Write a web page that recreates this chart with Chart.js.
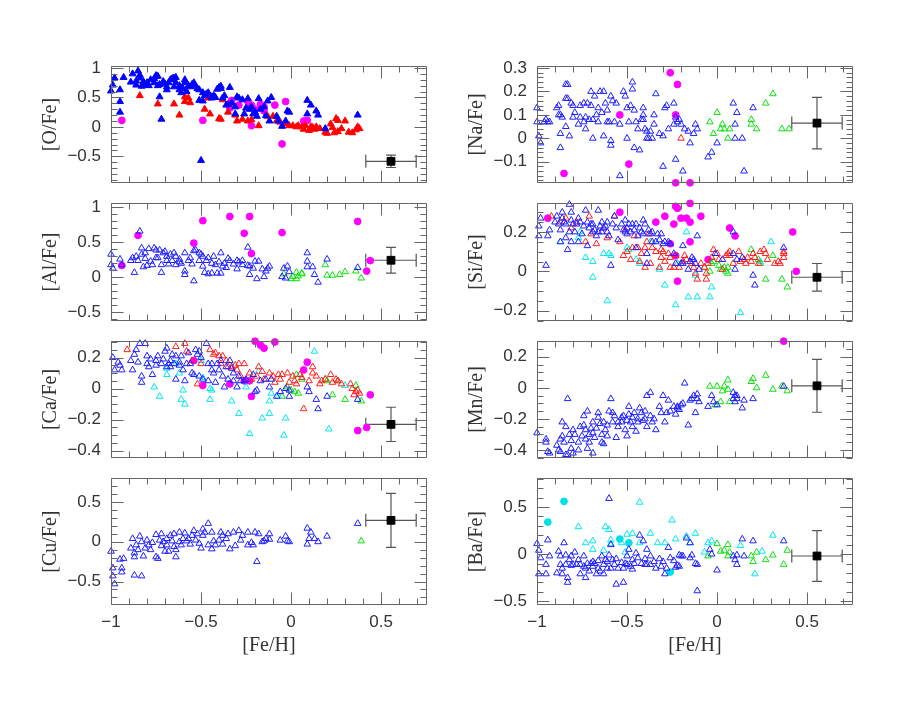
<!DOCTYPE html>
<html>
<head>
<meta charset="utf-8">
<script src="https://cdn.jsdelivr.net/npm/chart.js@4.4.1/dist/chart.umd.min.js"></script>
<style>
  html, body { margin: 0; padding: 0; background: #fff; }
  #wrap { position: relative; width: 900px; height: 715px; overflow: hidden; }
  canvas { position: absolute; }
</style>
</head>
<body>
<div id="wrap"></div>
<script>
// ---- shared x axis ([Fe/H]) ----
const xTicks = [-1, -0.5, 0, 0.5];

// ---- [O/Fe] ----
const oTicks = [-0.5, 0, 0.5, 1];
const oBlue = [[-1.0,0.61],[-0.99,0.71],[-0.98,0.83],[-0.95,0.63],[-0.95,0.43],[-0.95,0.25],[-0.93,0.84],[-0.89,0.76],[-0.88,0.90],[-0.86,0.78],[-0.85,0.95],[-0.84,0.88],[-0.84,0.83],[-0.86,0.71],[-0.83,0.69],[-0.82,0.77],[-0.81,0.71],[-0.80,0.75],[-0.79,0.70],[-0.78,0.80],[-0.76,0.82],[-0.75,0.87],[-0.75,0.86],[-0.74,0.86],[-0.76,0.75],[-0.74,0.70],[-0.73,0.72],[-0.73,0.51],[-0.72,0.13],[-0.71,0.77],[-0.70,0.73],[-0.69,0.68],[-0.69,0.63],[-0.68,0.75],[-0.67,0.80],[-0.66,0.82],[-0.65,0.83],[-0.64,0.84],[-0.64,0.75],[-0.65,0.68],[-0.62,0.70],[-0.62,0.63],[-0.61,0.58],[-0.60,0.65],[-0.59,0.80],[-0.59,0.75],[-0.58,0.60],[-0.57,0.70],[-0.56,0.68],[-0.55,0.72],[-0.54,0.75],[-0.53,0.69],[-0.52,0.65],[-0.51,0.63],[-0.51,0.45],[-0.50,-0.57],[-0.49,0.58],[-0.49,0.44],[-0.48,0.53],[-0.47,0.56],[-0.46,0.58],[-0.44,0.49],[-0.44,0.51],[-0.43,0.53],[-0.42,0.50],[-0.41,0.64],[-0.40,0.67],[-0.39,0.69],[-0.39,0.65],[-0.38,0.49],[-0.37,0.53],[-0.36,0.37],[-0.35,0.38],[-0.34,0.67],[-0.33,0.41],[-0.31,0.34],[-0.31,0.22],[-0.30,0.51],[-0.29,0.49],[-0.27,0.46],[-0.26,0.22],[-0.25,0.32],[-0.24,0.48],[-0.23,0.30],[-0.22,0.34],[-0.21,0.22],[-0.20,0.25],[-0.19,0.18],[-0.18,0.48],[-0.17,0.30],[-0.15,0.34],[-0.14,0.19],[-0.13,0.44],[-0.12,0.10],[-0.11,0.50],[-0.08,0.18],[-0.07,0.10],[-0.05,0.01],[-0.03,0.10],[-0.02,0.27],[-0.01,0.25],[0.09,0.45],[0.09,0.22],[0.11,0.37],[0.14,0.27],[0.15,0.20],[0.19,-0.03],[0.37,0.20]];
const oRed = [[-0.84,0.53],[-0.74,0.39],[-0.65,0.39],[-0.62,0.20],[-0.59,0.51],[-0.57,0.49],[-0.59,0.43],[-0.56,0.41],[-0.48,0.30],[-0.46,0.49],[-0.45,0.22],[-0.43,0.51],[-0.40,0.14],[-0.39,0.13],[-0.38,0.46],[-0.35,0.25],[-0.33,0.39],[-0.31,0.20],[-0.30,0.10],[-0.27,0.13],[-0.24,0.10],[-0.22,0.12],[-0.18,0.02],[-0.13,0.18],[-0.10,0.18],[-0.08,0.10],[-0.06,0.08],[-0.03,0.05],[-0.01,0.02],[0.01,0.02],[0.03,0.00],[0.04,0.02],[0.06,0.00],[0.07,-0.04],[0.08,0.02],[0.10,-0.06],[0.11,0.00],[0.12,-0.01],[0.13,-0.04],[0.14,0.00],[0.16,-0.03],[0.19,-0.09],[0.20,-0.11],[0.22,0.05],[0.23,-0.01],[0.24,-0.10],[0.25,0.14],[0.26,-0.08],[0.28,-0.03],[0.30,0.10],[0.26,0.11],[0.32,-0.09],[0.34,-0.10],[0.36,-0.05],[0.37,0.00],[0.38,-0.03]];
const oMag = [[-0.94,0.11],[-0.49,0.11],[-0.34,0.32],[-0.33,0.45],[-0.29,0.37],[-0.24,0.43],[-0.22,0.37],[-0.23,0.32],[-0.20,0.30],[-0.22,0.02],[-0.17,0.38],[-0.15,0.34],[-0.15,0.27],[-0.09,0.37],[-0.03,0.43],[-0.05,-0.29],[0.07,0.10],[0.09,0.11]];
const oRef = [0.555, -0.585], oErr = [0.14, 0.105];

// ---- [Al/Fe] ----
const alTicks = [-0.5, 0, 0.5, 1];
const alBlue = [[-1.0,0.33],[-1.0,0.18],[-0.99,0.13],[-0.95,0.26],[-0.94,0.18],[-0.89,0.24],[-0.88,0.28],[-0.87,0.07],[-0.86,0.30],[-0.85,0.24],[-0.84,0.66],[-0.83,0.42],[-0.83,0.33],[-0.82,0.15],[-0.81,0.27],[-0.81,0.35],[-0.80,0.17],[-0.79,0.41],[-0.78,0.23],[-0.77,0.18],[-0.76,0.42],[-0.75,0.28],[-0.75,0.39],[-0.74,0.28],[-0.73,0.39],[-0.72,0.07],[-0.72,0.18],[-0.71,0.35],[-0.70,0.37],[-0.69,0.24],[-0.69,0.30],[-0.68,0.19],[-0.67,0.33],[-0.66,0.24],[-0.65,0.35],[-0.64,0.18],[-0.64,0.30],[-0.62,0.26],[-0.62,0.22],[-0.61,0.20],[-0.59,0.09],[-0.59,0.04],[-0.59,0.35],[-0.57,0.24],[-0.56,0.28],[-0.55,0.19],[-0.54,-0.05],[-0.54,0.38],[-0.53,0.39],[-0.51,0.35],[-0.51,0.24],[-0.50,0.33],[-0.49,0.16],[-0.49,0.30],[-0.48,0.07],[-0.47,0.24],[-0.46,0.05],[-0.46,0.28],[-0.44,0.20],[-0.44,0.06],[-0.43,0.30],[-0.42,0.18],[-0.41,0.06],[-0.40,0.22],[-0.39,0.35],[-0.39,0.06],[-0.38,0.16],[-0.37,0.20],[-0.36,0.14],[-0.35,0.27],[-0.34,0.24],[-0.32,0.19],[-0.30,0.12],[-0.30,0.24],[-0.29,0.22],[-0.27,0.18],[-0.27,0.24],[-0.24,0.43],[-0.24,0.17],[-0.23,0.04],[-0.23,0.16],[-0.21,0.13],[-0.20,0.23],[-0.19,-0.02],[-0.18,0.23],[-0.16,0.12],[-0.15,0.01],[-0.14,0.09],[-0.13,0.13],[-0.12,0.16],[-0.05,0.01],[-0.04,0.13],[-0.03,-0.01],[-0.02,0.16],[-0.01,0.08],[0.09,0.35],[0.09,0.23],[0.09,0.15],[0.12,0.15],[0.13,0.04],[0.15,-0.07],[0.20,0.26],[0.37,0.14]];
const alGreen = [[-0.04,0.05],[0.00,-0.02],[0.01,0.01],[0.03,0.07],[0.03,-0.02],[0.04,0.02],[0.06,0.05],[0.06,0.06],[0.19,0.18],[0.20,0.03],[0.23,0.03],[0.27,0.04],[0.30,0.08],[0.36,0.09],[0.39,-0.01]];
const alMag = [[-0.94,0.17],[-0.85,0.60],[-0.54,0.49],[-0.49,0.81],[-0.34,0.87],[-0.23,0.87],[-0.26,0.63],[-0.22,0.34],[-0.05,0.64],[0.37,0.80],[0.44,0.24],[0.42,0.09]];
const alRef = [0.555, 0.245], alErr = [0.14, 0.185];

// ---- [Ca/Fe] ----
const caTicks = [-0.4, -0.2, 0, 0.2];
const caBlue = [[-0.99,0.20],[-0.98,0.12],[-0.96,0.17],[-0.95,0.15],[-0.94,0.12],[-0.89,0.18],[-0.88,0.12],[-0.87,0.22],[-0.86,0.25],[-0.84,0.29],[-0.85,0.17],[-0.83,0.08],[-0.83,0.04],[-0.81,0.29],[-0.80,0.21],[-0.80,0.16],[-0.79,0.14],[-0.78,0.19],[-0.77,0.09],[-0.75,0.18],[-0.75,0.15],[-0.74,0.21],[-0.72,0.16],[-0.71,0.19],[-0.70,0.24],[-0.69,0.14],[-0.69,0.26],[-0.68,0.16],[-0.67,0.18],[-0.67,0.14],[-0.66,0.22],[-0.65,0.16],[-0.64,0.06],[-0.64,0.21],[-0.62,0.17],[-0.62,0.15],[-0.61,0.21],[-0.60,0.12],[-0.59,0.05],[-0.58,0.16],[-0.57,0.23],[-0.56,0.16],[-0.55,0.10],[-0.54,0.09],[-0.53,0.25],[-0.52,0.22],[-0.51,0.24],[-0.51,0.08],[-0.50,0.20],[-0.49,0.06],[-0.47,0.29],[-0.46,0.16],[-0.46,0.05],[-0.44,0.12],[-0.44,0.16],[-0.43,0.10],[-0.42,0.04],[-0.41,0.16],[-0.40,0.12],[-0.39,0.18],[-0.38,0.08],[-0.37,0.01],[-0.36,0.14],[-0.35,0.06],[-0.34,0.18],[-0.33,0.13],[-0.32,0.05],[-0.32,0.10],[-0.30,0.01],[-0.29,0.08],[-0.28,0.05],[-0.26,0.05],[-0.25,0.06],[-0.21,0.09],[-0.20,-0.02],[-0.19,-0.01],[-0.17,0.05],[-0.14,0.06],[-0.12,0.01],[-0.11,0.06],[-0.08,-0.05],[-0.06,-0.02],[-0.03,0.00],[-0.01,-0.05],[-0.01,-0.01],[0.09,0.01],[0.10,-0.02],[0.14,-0.07],[0.15,-0.13],[0.20,-0.05],[0.37,-0.07]];
const caRed = [[-0.91,0.25],[-0.64,0.27],[-0.59,0.29],[-0.58,0.24],[-0.55,0.18],[-0.52,0.03],[-0.50,0.16],[-0.45,0.25],[-0.43,0.22],[-0.42,0.23],[-0.40,0.21],[-0.39,0.16],[-0.38,0.21],[-0.36,0.18],[-0.35,0.14],[-0.33,0.14],[-0.31,0.15],[-0.30,0.12],[-0.29,0.16],[-0.28,0.08],[-0.26,0.16],[-0.23,0.10],[-0.22,0.06],[-0.19,0.08],[-0.18,0.14],[-0.16,0.11],[-0.15,0.06],[-0.12,0.10],[-0.10,0.08],[-0.09,0.04],[-0.07,0.09],[-0.06,0.06],[-0.05,0.09],[-0.02,0.10],[-0.01,0.04],[0.01,0.08],[0.02,0.05],[0.03,0.03],[0.05,0.09],[0.06,0.07],[0.07,-0.13],[0.10,0.05],[0.12,0.14],[0.12,0.10],[0.14,0.08],[0.16,0.03],[0.17,0.05],[0.19,0.06],[0.22,0.09],[0.23,0.04],[0.25,0.06],[0.26,0.05],[0.28,0.03],[0.33,0.03],[0.34,0.00],[0.36,-0.02],[0.37,-0.01],[0.35,-0.04],[0.38,-0.03]];
const caCyan = [[-0.76,0.01],[-0.73,-0.05],[-0.69,0.09],[-0.69,0.13],[-0.64,0.16],[-0.62,0.10],[-0.61,-0.07],[-0.60,-0.01],[-0.59,-0.10],[-0.50,0.18],[-0.49,0.07],[-0.45,0.00],[-0.45,-0.07],[-0.44,-0.01],[-0.33,-0.08],[-0.29,-0.16],[-0.25,0.01],[-0.23,-0.29],[-0.18,0.11],[-0.16,-0.19],[-0.12,-0.16],[-0.12,-0.08],[-0.11,-0.03],[-0.07,-0.05],[-0.04,-0.30],[-0.03,-0.19],[0.13,0.24],[0.21,-0.26],[0.30,0.02]];
const caGreen = [[-0.05,-0.05],[-0.02,0.01],[0.00,-0.01],[0.02,-0.02],[0.03,0.09],[0.04,-0.03],[0.06,0.06],[0.19,0.06],[0.20,0.05],[0.23,-0.04],[0.26,0.05],[0.30,-0.07],[0.36,0.02],[0.39,-0.08]];
const caMag = [[-0.20,0.305],[-0.17,0.28],[-0.15,0.26],[-0.09,0.30],[-0.54,0.18],[-0.49,0.02],[-0.34,0.03],[-0.26,0.05],[-0.25,0.05],[-0.23,0.05],[-0.22,-0.05],[0.07,0.12],[0.09,0.17],[0.37,-0.27],[0.42,-0.25],[0.44,-0.04]];
const caRef = [0.555, -0.23], caErr = [0.14, 0.11];

// ---- [Cu/Fe] ----
const cuTicks = [-0.5, 0, 0.5];
const cuBlue = [[-1.0,-0.12],[-0.99,-0.33],[-0.99,-0.43],[-0.98,-0.53],[-0.95,-0.22],[-0.94,-0.38],[-0.94,-0.33],[-0.93,-0.21],[-0.89,-0.08],[-0.88,0.04],[-0.87,-0.14],[-0.87,-0.19],[-0.87,-0.42],[-0.86,-0.04],[-0.85,-0.10],[-0.84,0.07],[-0.83,-0.43],[-0.83,0.00],[-0.82,-0.18],[-0.81,-0.08],[-0.80,0.02],[-0.79,-0.04],[-0.78,-0.10],[-0.77,-0.01],[-0.75,-0.19],[-0.75,0.09],[-0.74,-0.21],[-0.73,0.02],[-0.72,0.10],[-0.72,-0.05],[-0.71,0.00],[-0.70,-0.12],[-0.69,0.04],[-0.69,-0.04],[-0.68,-0.12],[-0.67,0.08],[-0.66,0.01],[-0.65,0.10],[-0.65,-0.06],[-0.64,-0.19],[-0.64,-0.10],[-0.62,0.00],[-0.62,0.12],[-0.61,-0.04],[-0.60,0.04],[-0.59,0.11],[-0.58,0.01],[-0.57,0.04],[-0.56,-0.03],[-0.55,0.08],[-0.54,0.14],[-0.53,0.02],[-0.52,0.10],[-0.51,-0.02],[-0.50,-0.08],[-0.49,0.16],[-0.49,0.08],[-0.48,0.12],[-0.46,0.23],[-0.46,-0.04],[-0.44,-0.09],[-0.44,0.12],[-0.43,0.01],[-0.42,-0.04],[-0.40,0.02],[-0.39,0.12],[-0.38,-0.03],[-0.38,0.08],[-0.36,0.04],[-0.35,0.10],[-0.34,-0.09],[-0.32,0.12],[-0.31,-0.05],[-0.29,0.14],[-0.28,0.02],[-0.27,0.08],[-0.24,0.12],[-0.24,-0.04],[-0.22,-0.01],[-0.21,-0.04],[-0.20,0.12],[-0.19,-0.25],[-0.18,0.10],[-0.16,0.00],[-0.15,0.01],[-0.14,0.04],[-0.12,0.10],[-0.12,0.03],[-0.06,0.02],[-0.03,0.07],[-0.02,0.01],[-0.01,0.00],[0.09,0.17],[0.09,-0.03],[0.10,0.04],[0.11,0.12],[0.13,0.04],[0.15,0.00],[0.20,0.07],[0.37,0.23]];
const cuGreen = [[0.39,0.01]];
const cuRef = [0.555, 0.27], cuErr = [0.14, 0.34];

// ---- [Na/Fe] ----
const naTicks = [-0.1, 0, 0.1, 0.2, 0.3];
const naBlue = [[-1.0,0.13],[-1.0,0.07],[-0.99,0.01],[-0.98,-0.02],[-0.96,0.07],[-0.95,0.08],[-0.94,0.07],[-0.93,0.07],[-0.89,0.13],[-0.88,0.14],[-0.88,0.10],[-0.87,0.10],[-0.87,0.02],[-0.87,-0.04],[-0.86,0.09],[-0.84,0.23],[-0.83,0.23],[-0.84,0.17],[-0.83,0.17],[-0.84,0.05],[-0.82,0.01],[-0.81,0.15],[-0.80,0.14],[-0.80,0.09],[-0.79,0.11],[-0.77,0.06],[-0.76,0.14],[-0.76,0.09],[-0.74,0.15],[-0.74,0.07],[-0.73,0.09],[-0.73,0.04],[-0.72,0.15],[-0.71,0.08],[-0.70,0.14],[-0.70,0.20],[-0.69,0.00],[-0.69,0.08],[-0.68,0.18],[-0.67,0.10],[-0.66,0.07],[-0.66,0.13],[-0.65,0.20],[-0.64,0.11],[-0.63,0.20],[-0.63,0.01],[-0.62,0.15],[-0.61,0.12],[-0.61,0.07],[-0.60,0.07],[-0.59,0.18],[-0.59,-0.01],[-0.59,-0.03],[-0.58,0.16],[-0.57,0.07],[-0.56,0.15],[-0.54,-0.16],[-0.54,0.06],[-0.52,0.20],[-0.51,0.18],[-0.50,0.13],[-0.50,0.00],[-0.49,0.07],[-0.48,0.14],[-0.47,0.24],[-0.47,0.21],[-0.46,-0.04],[-0.46,0.12],[-0.45,0.07],[-0.44,0.04],[-0.43,-0.05],[-0.42,0.08],[-0.41,0.08],[-0.41,0.13],[-0.41,0.10],[-0.40,0.04],[-0.39,0.03],[-0.39,0.00],[-0.38,0.00],[-0.37,0.03],[-0.36,0.00],[-0.35,0.06],[-0.35,0.10],[-0.34,0.19],[-0.32,0.02],[-0.30,-0.12],[-0.30,0.01],[-0.29,0.13],[-0.28,0.14],[-0.27,0.04],[-0.24,0.06],[-0.24,0.15],[-0.23,0.09],[-0.23,-0.09],[-0.22,0.07],[-0.21,0.08],[-0.20,0.06],[-0.19,-0.14],[-0.18,0.04],[-0.16,0.03],[-0.15,-0.02],[-0.13,0.02],[-0.12,0.06],[-0.11,0.04],[-0.05,-0.08],[-0.03,-0.06],[0.00,-0.02],[0.09,0.15],[0.10,0.06],[0.10,0.00],[0.11,0.11],[0.14,0.00],[0.15,-0.14],[0.20,0.13]];
const naRed = [[-0.20,0.00]];
const naGreen = [[-0.04,0.07],[-0.02,0.02],[0.00,0.11],[0.02,0.04],[0.03,0.06],[0.04,0.04],[0.06,0.00],[0.07,0.04],[0.19,0.06],[0.19,0.08],[0.22,0.04],[0.27,0.15],[0.31,0.19],[0.36,0.04],[0.40,0.04]];
const naMag = [[-0.85,-0.15],[-0.54,0.10],[-0.49,-0.11],[-0.26,0.28],[-0.22,0.23],[-0.23,0.10],[-0.23,-0.19],[-0.15,-0.19]];
const naRef = [0.555, 0.065], naErr = [0.14, 0.11];

// ---- [Si/Fe] ----
const siTicks = [-0.2, 0, 0.2];
const siBlue = [[-0.99,0.18],[-0.99,0.23],[-0.98,0.27],[-0.95,0.03],[-0.94,0.18],[-0.93,0.21],[-0.90,0.25],[-0.89,0.28],[-0.88,0.24],[-0.87,0.15],[-0.87,0.21],[-0.86,0.27],[-0.86,0.30],[-0.85,0.25],[-0.84,0.17],[-0.84,0.24],[-0.83,0.11],[-0.82,0.34],[-0.82,0.20],[-0.81,0.15],[-0.81,0.26],[-0.81,0.30],[-0.80,0.24],[-0.79,0.20],[-0.78,0.24],[-0.77,0.27],[-0.77,0.15],[-0.76,0.25],[-0.75,0.19],[-0.74,0.23],[-0.73,0.31],[-0.72,0.13],[-0.72,0.25],[-0.71,0.22],[-0.70,0.24],[-0.69,0.20],[-0.69,0.24],[-0.68,0.21],[-0.67,0.18],[-0.66,0.31],[-0.66,0.20],[-0.65,0.23],[-0.64,0.20],[-0.64,0.25],[-0.63,0.22],[-0.62,0.23],[-0.61,0.20],[-0.61,0.25],[-0.60,0.18],[-0.59,0.03],[-0.58,0.24],[-0.57,0.28],[-0.56,0.22],[-0.55,0.16],[-0.53,0.24],[-0.52,0.21],[-0.51,0.26],[-0.51,0.20],[-0.50,0.22],[-0.50,0.19],[-0.49,0.24],[-0.48,0.20],[-0.47,0.24],[-0.46,0.21],[-0.45,0.24],[-0.45,0.12],[-0.44,0.18],[-0.43,0.22],[-0.42,0.20],[-0.41,0.26],[-0.41,0.19],[-0.40,0.24],[-0.39,0.09],[-0.39,0.04],[-0.38,0.21],[-0.37,0.19],[-0.36,0.20],[-0.36,0.15],[-0.34,0.15],[-0.33,0.19],[-0.32,0.16],[-0.31,0.19],[-0.30,0.14],[-0.29,0.15],[-0.27,0.15],[-0.26,0.14],[-0.24,0.09],[-0.23,0.04],[-0.20,0.04],[-0.19,0.13],[-0.19,0.04],[-0.16,0.01],[-0.15,0.05],[-0.14,0.07],[-0.13,0.06],[-0.12,0.04],[-0.11,0.18],[-0.10,0.01],[-0.01,0.09],[0.03,0.06],[0.09,0.09],[0.09,0.20],[0.10,0.01],[0.11,0.06],[0.14,0.07],[0.20,-0.02],[0.21,-0.07],[0.37,0.12]];
const siRed = [[-0.92,0.28],[-0.87,0.25],[-0.84,0.27],[-0.81,0.22],[-0.78,0.25],[-0.73,0.15],[-0.71,0.28],[-0.70,0.19],[-0.67,0.14],[-0.63,0.22],[-0.61,0.17],[-0.57,0.28],[-0.54,0.15],[-0.52,0.08],[-0.51,0.21],[-0.50,0.10],[-0.48,0.06],[-0.47,0.12],[-0.46,0.18],[-0.44,0.12],[-0.43,0.05],[-0.42,0.09],[-0.40,0.12],[-0.40,0.02],[-0.39,0.15],[-0.38,0.19],[-0.37,0.04],[-0.36,0.12],[-0.34,0.10],[-0.32,0.02],[-0.31,0.11],[-0.31,0.07],[-0.30,0.10],[-0.29,0.05],[-0.27,0.09],[-0.26,0.02],[-0.26,0.07],[-0.24,0.02],[-0.23,0.08],[-0.21,0.02],[-0.19,0.05],[-0.18,0.08],[-0.17,0.06],[-0.14,0.04],[-0.13,0.02],[-0.12,-0.01],[-0.11,-0.04],[-0.09,0.04],[-0.07,0.02],[-0.06,-0.01],[-0.06,-0.04],[-0.05,0.04],[-0.03,0.07],[-0.02,0.11],[0.00,0.09],[0.01,0.06],[0.03,0.01],[0.05,0.08],[0.06,0.09],[0.07,0.08],[0.07,0.10],[0.09,0.04],[0.12,0.10],[0.13,0.05],[0.15,0.06],[0.16,0.04],[0.17,0.07],[0.19,0.05],[0.20,0.09],[0.21,0.07],[0.23,0.04],[0.24,0.10],[0.26,0.11],[0.27,0.09],[0.28,0.06],[0.32,0.04],[0.34,0.05],[0.35,0.04],[0.37,0.07],[0.37,0.09],[0.37,0.10]];
const siCyan = [[-0.87,0.15],[-0.77,0.17],[-0.76,0.20],[-0.73,0.07],[-0.69,0.05],[-0.69,-0.03],[-0.63,0.09],[-0.60,0.09],[-0.61,-0.15],[-0.59,0.08],[-0.50,0.12],[-0.49,0.11],[-0.45,0.06],[-0.43,0.04],[-0.37,0.15],[-0.32,0.01],[-0.29,-0.07],[-0.23,-0.17],[-0.22,0.04],[-0.17,0.20],[-0.16,-0.13],[-0.12,-0.02],[-0.11,-0.13],[-0.04,-0.13],[-0.03,-0.08],[0.13,-0.21],[0.24,0.05],[0.30,0.15]];
const siGreen = [[-0.07,0.02],[-0.04,0.00],[-0.03,0.04],[-0.02,0.05],[0.01,0.03],[0.02,0.01],[0.04,0.02],[0.05,0.00],[0.06,0.02],[0.06,-0.01],[0.19,0.11],[0.23,0.06],[0.24,0.04],[0.31,0.08],[0.27,-0.04],[0.36,-0.04],[0.39,-0.08]];
const siMag = [[-0.94,0.27],[-0.54,0.30],[-0.34,0.25],[-0.29,0.28],[-0.24,0.24],[-0.23,0.33],[-0.22,0.32],[-0.20,0.27],[-0.17,0.27],[-0.15,0.345],[-0.15,0.25],[-0.09,0.28],[-0.26,0.14],[-0.23,0.08],[-0.15,0.15],[-0.22,-0.05],[-0.05,0.06],[0.07,0.22],[0.10,0.18],[0.42,0.20],[0.44,0.00]];
const siRef = [0.555, -0.03], siErr = [0.14, 0.07];

// ---- [Mn/Fe] ----
const mnTicks = [-0.4, -0.2, 0, 0.2];
const mnBlue = [[-1.0,-0.29],[-0.95,-0.33],[-0.95,-0.35],[-0.94,-0.41],[-0.93,-0.42],[-0.89,-0.37],[-0.88,-0.40],[-0.87,-0.33],[-0.87,-0.41],[-0.86,-0.22],[-0.86,-0.31],[-0.85,-0.35],[-0.84,-0.43],[-0.84,-0.25],[-0.83,-0.07],[-0.83,-0.43],[-0.82,-0.30],[-0.81,-0.39],[-0.81,-0.34],[-0.80,-0.27],[-0.80,-0.42],[-0.79,-0.30],[-0.77,-0.35],[-0.77,-0.40],[-0.76,-0.25],[-0.75,-0.31],[-0.74,-0.24],[-0.74,-0.18],[-0.73,-0.27],[-0.73,-0.33],[-0.72,-0.15],[-0.72,-0.39],[-0.71,-0.30],[-0.71,-0.35],[-0.70,-0.26],[-0.69,-0.22],[-0.69,-0.42],[-0.69,-0.29],[-0.68,-0.32],[-0.67,-0.26],[-0.66,-0.19],[-0.66,-0.16],[-0.65,-0.23],[-0.64,-0.30],[-0.64,-0.35],[-0.63,-0.36],[-0.63,-0.22],[-0.62,-0.27],[-0.61,-0.31],[-0.61,-0.24],[-0.60,-0.15],[-0.59,-0.07],[-0.58,-0.22],[-0.58,-0.16],[-0.57,-0.18],[-0.56,-0.32],[-0.55,-0.22],[-0.55,-0.25],[-0.53,-0.19],[-0.53,-0.22],[-0.52,-0.18],[-0.51,-0.27],[-0.50,-0.31],[-0.50,-0.21],[-0.49,-0.12],[-0.49,-0.17],[-0.48,-0.22],[-0.47,-0.19],[-0.47,-0.25],[-0.46,-0.16],[-0.45,-0.28],[-0.44,-0.20],[-0.44,-0.22],[-0.43,-0.13],[-0.42,-0.16],[-0.41,-0.21],[-0.40,-0.15],[-0.40,-0.20],[-0.39,-0.05],[-0.39,-0.25],[-0.37,-0.03],[-0.37,-0.18],[-0.36,-0.22],[-0.35,-0.20],[-0.34,-0.27],[-0.32,-0.12],[-0.31,-0.16],[-0.30,-0.05],[-0.29,-0.22],[-0.28,-0.16],[-0.27,-0.08],[-0.26,-0.15],[-0.24,-0.12],[-0.23,-0.17],[-0.22,-0.13],[-0.22,-0.12],[-0.21,-0.14],[-0.20,-0.11],[-0.19,-0.10],[-0.18,0.03],[-0.16,-0.24],[-0.15,-0.08],[-0.14,-0.07],[-0.13,-0.05],[-0.12,-0.16],[-0.11,-0.04],[-0.11,-0.07],[-0.10,-0.09],[-0.05,-0.12],[-0.03,-0.05],[-0.02,-0.09],[0.00,-0.11],[0.09,-0.03],[0.09,-0.07],[0.10,-0.09],[0.10,-0.05],[0.11,-0.07],[0.11,-0.05],[0.14,-0.13],[0.15,-0.08],[0.20,-0.07],[0.37,0.01]];
const mnGreen = [[-0.04,0.01],[-0.01,-0.11],[0.00,0.01],[0.02,-0.09],[0.03,-0.02],[0.04,0.01],[0.06,-0.01],[0.06,0.05],[0.07,-0.09],[0.19,0.04],[0.20,0.06],[0.22,0.00],[0.27,0.08],[0.31,-0.01],[0.36,0.01],[0.39,-0.02]];
const mnMag = [[0.37,0.30]];
const mnRef = [0.555, 0.013], mnErr = [0.14, 0.17];

// ---- [Ba/Fe] ----
const baTicks = [-0.5, 0, 0.5];
const baBlue = [[-1.0,0.11],[-0.99,0.04],[-0.98,-0.04],[-0.99,-0.21],[-0.95,-0.11],[-0.94,0.15],[-0.93,-0.02],[-0.95,-0.21],[-0.89,-0.20],[-0.88,0.03],[-0.87,-0.11],[-0.87,-0.02],[-0.86,-0.15],[-0.86,-0.21],[-0.85,0.12],[-0.84,-0.01],[-0.84,-0.11],[-0.83,-0.25],[-0.83,-0.30],[-0.82,-0.06],[-0.81,-0.12],[-0.81,-0.02],[-0.80,-0.11],[-0.79,0.02],[-0.78,-0.11],[-0.77,-0.06],[-0.76,-0.21],[-0.76,-0.11],[-0.74,-0.02],[-0.74,-0.13],[-0.73,-0.25],[-0.73,-0.15],[-0.72,-0.10],[-0.71,-0.18],[-0.70,-0.10],[-0.69,-0.13],[-0.69,-0.08],[-0.68,-0.10],[-0.67,-0.21],[-0.66,-0.07],[-0.66,-0.15],[-0.65,-0.18],[-0.64,-0.02],[-0.63,-0.21],[-0.63,-0.11],[-0.62,-0.06],[-0.61,-0.15],[-0.61,-0.08],[-0.60,0.59],[-0.60,-0.01],[-0.59,-0.15],[-0.59,0.10],[-0.58,-0.06],[-0.57,-0.11],[-0.56,-0.32],[-0.56,-0.05],[-0.55,-0.15],[-0.53,-0.09],[-0.52,-0.30],[-0.52,-0.15],[-0.51,-0.10],[-0.50,-0.02],[-0.50,-0.11],[-0.49,0.05],[-0.48,-0.13],[-0.47,-0.06],[-0.47,-0.16],[-0.46,-0.10],[-0.45,0.01],[-0.44,-0.04],[-0.43,0.20],[-0.42,-0.10],[-0.41,0.14],[-0.40,-0.05],[-0.40,-0.11],[-0.39,0.05],[-0.39,-0.11],[-0.37,-0.02],[-0.37,-0.11],[-0.35,-0.08],[-0.34,-0.15],[-0.32,-0.05],[-0.31,-0.13],[-0.30,-0.08],[-0.29,-0.21],[-0.28,-0.15],[-0.27,0.07],[-0.26,-0.04],[-0.24,-0.07],[-0.23,-0.14],[-0.22,-0.12],[-0.21,-0.01],[-0.21,-0.13],[-0.20,-0.02],[-0.19,-0.02],[-0.17,0.17],[-0.15,0.12],[-0.15,-0.04],[-0.14,-0.01],[-0.12,-0.10],[-0.11,-0.11],[-0.11,-0.39],[-0.04,0.05],[-0.03,0.00],[0.00,-0.17],[0.09,-0.02],[0.10,-0.06],[0.11,-0.11],[0.11,-0.01],[0.14,0.16],[0.15,-0.02],[0.20,0.14],[0.37,0.14]];
const baCyan = [[-0.77,0.29],[-0.73,0.12],[-0.69,0.05],[-0.69,0.14],[-0.63,0.04],[-0.62,0.29],[-0.60,0.26],[-0.59,0.15],[-0.59,0.11],[-0.53,0.12],[-0.51,0.02],[-0.50,0.21],[-0.47,0.22],[-0.43,0.55],[-0.43,0.12],[-0.37,0.22],[-0.33,0.12],[-0.29,0.12],[-0.25,0.36],[-0.23,0.16],[-0.17,0.19],[-0.15,0.12],[-0.12,0.22],[-0.07,0.02],[-0.05,0.12],[-0.03,0.14],[0.13,0.09],[0.21,-0.21],[0.25,0.03],[0.31,0.20]];
const baCyanDot = [[-0.85,0.56],[-0.94,0.34],[-0.54,0.16],[-0.49,0.12],[-0.26,-0.19]];
const baGreen = [[-0.05,-0.02],[0.00,0.11],[0.02,0.03],[0.04,0.04],[0.06,0.10],[0.06,-0.02],[0.07,0.02],[0.19,-0.02],[0.20,-0.08],[0.22,0.02],[0.27,-0.06],[0.31,-0.01],[0.37,-0.11],[0.39,0.04]];
const baRef = [0.555, -0.02], baErr = [0.14, 0.27];

// ---- marker styles ----
const styles = {
  blueFill:  { pointStyle: 'triangle', pointRadius: 4,   backgroundColor: '#0000ff', borderColor: '#0000ff', borderWidth: 1 },
  redFill:   { pointStyle: 'triangle', pointRadius: 4,   backgroundColor: '#ff0000', borderColor: '#ff0000', borderWidth: 1 },
  blueOpen:  { pointStyle: 'triangle', pointRadius: 3.8, backgroundColor: 'rgba(0,0,0,0)', borderColor: '#1f1fff', borderWidth: 1 },
  redOpen:   { pointStyle: 'triangle', pointRadius: 3.8, backgroundColor: 'rgba(0,0,0,0)', borderColor: '#ff2020', borderWidth: 1 },
  cyanOpen:  { pointStyle: 'triangle', pointRadius: 3.8, backgroundColor: 'rgba(0,0,0,0)', borderColor: '#00e8f0', borderWidth: 1 },
  greenOpen: { pointStyle: 'triangle', pointRadius: 3.8, backgroundColor: 'rgba(0,0,0,0)', borderColor: '#10e010', borderWidth: 1 },
  mag:       { pointStyle: 'circle',   pointRadius: 3.4, backgroundColor: '#ff00ff', borderColor: '#ff00ff', borderWidth: 1 },
  cyanDot:   { pointStyle: 'circle',   pointRadius: 3.4, backgroundColor: '#00e0e8', borderColor: '#00e0e8', borderWidth: 1 },
  sun:       { pointStyle: 'rect',     pointRadius: 5.5, backgroundColor: '#000',    borderColor: '#000',    borderWidth: 1 }
};

const panels = [
  { col: 0, row: 0, title: '[O/Fe]',  yMin: -0.95, yMax: 1.03,  yTicks: oTicks,  yMinor: 0.1,  ref: oRef,  err: oErr,
    series: [[oBlue, 'blueFill'], [oRed, 'redFill'], [oMag, 'mag']] },
  { col: 0, row: 1, title: '[Al/Fe]', yMin: -0.62, yMax: 1.06,  yTicks: alTicks, yMinor: 0.1,  ref: alRef, err: alErr,
    series: [[alBlue, 'blueOpen'], [alGreen, 'greenOpen'], [alMag, 'mag']] },
  { col: 0, row: 2, title: '[Ca/Fe]', yMin: -0.445, yMax: 0.305, yTicks: caTicks, yMinor: 0.05, ref: caRef, err: caErr,
    series: [[caBlue, 'blueOpen'], [caRed, 'redOpen'], [caCyan, 'cyanOpen'], [caGreen, 'greenOpen'], [caMag, 'mag']] },
  { col: 0, row: 3, title: '[Cu/Fe]', yMin: -0.795, yMax: 0.8,  yTicks: cuTicks, yMinor: 0.1,  ref: cuRef, err: cuErr,
    series: [[cuBlue, 'blueOpen'], [cuGreen, 'greenOpen']] },
  { col: 1, row: 0, title: '[Na/Fe]', yMin: -0.19, yMax: 0.308, yTicks: naTicks, yMinor: 0.02, ref: naRef, err: naErr,
    series: [[naBlue, 'blueOpen'], [naRed, 'redOpen'], [naGreen, 'greenOpen'], [naMag, 'mag']] },
  { col: 1, row: 1, title: '[Si/Fe]', yMin: -0.251, yMax: 0.346, yTicks: siTicks, yMinor: 0.05, ref: siRef, err: siErr,
    series: [[siBlue, 'blueOpen'], [siRed, 'redOpen'], [siCyan, 'cyanOpen'], [siGreen, 'greenOpen'], [siMag, 'mag']] },
  { col: 1, row: 2, title: '[Mn/Fe]', yMin: -0.45, yMax: 0.30,  yTicks: mnTicks, yMinor: 0.05, ref: mnRef, err: mnErr,
    series: [[mnBlue, 'blueOpen'], [mnGreen, 'greenOpen'], [mnMag, 'mag']] },
  { col: 1, row: 3, title: '[Ba/Fe]', yMin: -0.54, yMax: 0.806, yTicks: baTicks, yMinor: 0.1,  ref: baRef, err: baErr,
    series: [[baBlue, 'blueOpen'], [baCyan, 'cyanOpen'], [baGreen, 'greenOpen'], [baCyanDot, 'cyanDot']] }
];

// page geometry of the plot frames
const colLeft = [111, 537];
const rowTop = [56, 193, 331, 468];
const rowH = [137, 138, 137, 137];
const plotW = 316;
const yAxisW = 75, pad = 10, bottomAxisH = 55;

const numFmt = v => {
  const r = Math.round(v * 100) / 100;
  return (r < 0 ? '\u2212' : '') + String(Math.abs(r));
};

// frame and inward ticks on all four sides
const frameTicks = {
  id: 'frameTicks',
  afterDatasetsDraw(chart, args, opts) {
    const { ctx, chartArea: a, scales: { x, y } } = chart;
    const L = Math.round(a.left) + 0.5, R = Math.round(a.right) - 0.5;
    const T = Math.round(a.top) + 0.5, B = Math.round(a.bottom) - 0.5;
    const isMajor = (list, v) => list.some(t => Math.abs(t - v) < 1e-6);
    ctx.save();
    ctx.strokeStyle = '#666';
    ctx.lineWidth = 1;
    ctx.beginPath();
    ctx.rect(L, T, R - L, B - T);
    for (let k = Math.ceil(x.min / 0.1 - 1e-6); k * 0.1 <= x.max + 1e-9; k++) {
      const v = k * 0.1;
      const len = isMajor(xTicks, v) ? 12 : 6;
      const px = Math.round(x.getPixelForValue(v)) + 0.5;
      ctx.moveTo(px, T); ctx.lineTo(px, T + len);
      ctx.moveTo(px, B); ctx.lineTo(px, B - len);
    }
    const st = opts.minor;
    for (let k = Math.ceil(y.min / st - 1e-6); k * st <= y.max + 1e-9; k++) {
      const v = k * st;
      const len = isMajor(opts.major, v) ? 12 : 6;
      const py = Math.round(y.getPixelForValue(v)) + 0.5;
      ctx.moveTo(L, py); ctx.lineTo(L + len, py);
      ctx.moveTo(R, py); ctx.lineTo(R - len, py);
    }
    ctx.stroke();
    ctx.restore();
  }
};

// error cross round the reference point
const errBars = {
  id: 'errBars',
  beforeDatasetsDraw(chart, args, opts) {
    const { ctx, scales: { x, y } } = chart;
    const [px, py] = opts.point, [ex, ey] = opts.err;
    const cx = x.getPixelForValue(px), cy = y.getPixelForValue(py);
    const x0 = x.getPixelForValue(px - ex), x1 = x.getPixelForValue(px + ex);
    const y0 = y.getPixelForValue(py - ey), y1 = y.getPixelForValue(py + ey);
    ctx.save();
    ctx.strokeStyle = '#555';
    ctx.lineWidth = 1.2;
    ctx.beginPath();
    ctx.moveTo(x0, cy); ctx.lineTo(x1, cy);
    ctx.moveTo(cx, y0); ctx.lineTo(cx, y1);
    ctx.moveTo(x0, cy - 6.5); ctx.lineTo(x0, cy + 6.5);
    ctx.moveTo(x1, cy - 6.5); ctx.lineTo(x1, cy + 6.5);
    ctx.moveTo(cx - 5, y0); ctx.lineTo(cx + 5, y0);
    ctx.moveTo(cx - 5, y1); ctx.lineTo(cx + 5, y1);
    ctx.stroke();
    ctx.restore();
  }
};

const wrap = document.getElementById('wrap');

panels.forEach(p => {
  const bottom = p.row === 3;
  const cv = document.createElement('canvas');
  const w = yAxisW + plotW + pad;
  const h = pad + rowH[p.row] + (bottom ? bottomAxisH : pad);
  cv.width = w; cv.height = h;
  cv.style.left = (colLeft[p.col] - yAxisW) + 'px';
  cv.style.top = (rowTop[p.row] - pad) + 'px';
  wrap.appendChild(cv);

  const datasets = p.series.map(([pts, st]) => Object.assign({
    data: pts.map(([x, y]) => ({ x, y })),
    clip: false
  }, styles[st]));
  datasets.push(Object.assign({ data: [{ x: p.ref[0], y: p.ref[1] }], clip: false }, styles.sun));

  new Chart(cv, {
    type: 'scatter',
    data: { datasets },
    options: {
      responsive: false,
      animation: false,
      events: [],
      layout: { padding: { left: 0, top: pad, right: pad, bottom: bottom ? 0 : pad } },
      plugins: {
        legend: { display: false },
        tooltip: { enabled: false },
        frameTicks: { major: p.yTicks, minor: p.yMinor },
        errBars: { point: p.ref, err: p.err }
      },
      scales: {
        x: {
          type: 'linear', min: -1, max: 0.755,
          grid: { display: false, drawTicks: false },
          border: { display: false },
          afterBuildTicks: s => { s.ticks = xTicks.map(v => ({ value: v })); },
          afterFit: s => { s.height = bottom ? bottomAxisH : 0; },
          ticks: {
            display: bottom, autoSkip: false, maxRotation: 0, padding: 7,
            color: '#333', font: { family: 'Liberation Sans', size: 17 },
            callback: numFmt
          },
          title: {
            display: bottom, text: '[Fe/H]', color: '#333',
            font: { family: 'Liberation Serif', size: 20 }, padding: { top: 0, bottom: 2 }
          }
        },
        y: {
          type: 'linear', min: p.yMin, max: p.yMax,
          grid: { display: false, drawTicks: false },
          border: { display: false },
          afterBuildTicks: s => { s.ticks = p.yTicks.map(v => ({ value: v })); },
          afterFit: s => { s.width = yAxisW; },
          ticks: {
            autoSkip: false, padding: 10,
            color: '#333', font: { family: 'Liberation Sans', size: 17 },
            callback: numFmt
          },
          title: {
            display: true, text: p.title, color: '#333',
            font: { family: 'Liberation Serif', size: 20 }, padding: { top: 3, bottom: 0 }
          }
        }
      }
    },
    plugins: [errBars, frameTicks]
  });
});
</script>
</body>
</html>
